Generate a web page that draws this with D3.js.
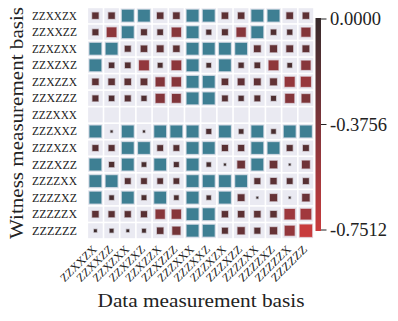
<!DOCTYPE html>
<html>
<head>
<meta charset="utf-8">
<script src="https://cdn.jsdelivr.net/npm/d3@7"></script>
<style>
  body { margin: 0; background: #fff; }
  svg { display: block; }
  text { font-family: "Liberation Serif", "DejaVu Serif", serif; fill: #222; }
</style>
</head>
<body>
<div id="chart"></div>
<script>
// Witness vs data measurement basis: square size ~ |value|, colour by value
const rowLabels = ['ZZXXZX', 'ZZXXZZ', 'ZZXZXX', 'ZZXZXZ', 'ZZXZZX', 'ZZXZZZ', 'ZZZXXX',
                   'ZZZXXZ', 'ZZZXZX', 'ZZZXZZ', 'ZZZZXX', 'ZZZZXZ', 'ZZZZZX', 'ZZZZZZ'];
const colLabels = rowLabels.slice();

// positive values fall above the colour range and are drawn in teal
const T = 0.68;
const witnessValues = [
    [-0.20, -0.20, T, T, -0.20, -0.21, T, T, -0.20, -0.20, T, T, -0.21, -0.20],
    [-0.17, -0.45, T, -0.17, -0.15, -0.42, T, -0.12, -0.17, -0.42, T, -0.14, -0.13, -0.40],
    [T, T, -0.17, -0.20, -0.22, -0.20, T, T, T, T, -0.22, -0.24, -0.22, -0.22],
    [T, -0.14, -0.15, -0.48, -0.11, -0.45, T, -0.10, T, -0.13, -0.15, -0.46, -0.10, -0.42],
    [-0.20, -0.20, -0.20, -0.21, -0.40, -0.42, T, T, -0.20, -0.22, -0.22, -0.23, -0.48, -0.50],
    [-0.17, -0.14, -0.17, -0.13, -0.40, -0.38, T, T, -0.16, -0.13, -0.16, -0.12, -0.40, -0.36],
    [null, null, null, null, null, null, null, null, null, null, null, null, null, null],
    [T, -0.02, T, -0.02, T, T, T, -0.12, T, -0.10, T, -0.10, T, T],
    [-0.17, -0.17, T, T, -0.16, -0.16, T, T, -0.18, -0.18, T, T, -0.17, -0.17],
    [T, -0.13, T, -0.10, T, -0.12, T, -0.09, -0.02, -0.28, T, -0.27, -0.015, -0.30],
    [T, T, -0.16, -0.16, -0.15, -0.15, T, T, T, T, -0.17, -0.19, -0.16, -0.17],
    [T, -0.10, T, -0.11, T, -0.10, T, -0.09, T, -0.22, -0.015, -0.25, -0.015, -0.27],
    [-0.20, -0.18, -0.18, -0.18, -0.42, -0.42, T, T, -0.19, -0.20, -0.20, -0.20, -0.53, -0.55],
    [-0.04, -0.07, -0.035, -0.07, -0.20, -0.32, T, T, -0.17, -0.25, -0.17, -0.25, -0.48, -0.7512]
];

const vMin = -0.7512;
const cbarTicks = [0, -0.3756, -0.7512];

const width = 398, height = 321;
const svg = d3.select('#chart').append('svg')
    .attr('width', width)
    .attr('height', height);

const x = d3.scaleBand().domain(colLabels).range([87.3, 314]);
const y = d3.scaleBand().domain(rowLabels).range([7.4, 239]);

const color = d3.scaleLinear()
    .domain([0, vMin])
    .range(['#362a2b', '#c83b3d'])
    .interpolate(d3.interpolateHcl)
    .clamp(true);
const overColor = '#3e7f93';

const maxSide = 12.3;
const side = d3.scaleSqrt().domain([0, Math.abs(vMin)]).range([0, maxSide]);

// cell backgrounds
const gap = 1.6;
rowLabels.forEach(r => {
    colLabels.forEach(c => {
        svg.append('rect')
            .attr('x', x(c) + gap / 2)
            .attr('y', y(r) + gap / 2)
            .attr('width', x.bandwidth() - gap)
            .attr('height', y.bandwidth() - gap)
            .attr('fill', '#eaeaf2');
    });
});

// squares
witnessValues.forEach((row, i) => {
    row.forEach((v, j) => {
        if (v === null) return;
        const s = side(Math.abs(v));
        const cx = x(colLabels[j]) + x.bandwidth() / 2;
        const cy = y(rowLabels[i]) + y.bandwidth() / 2;
        const fill = v > 0 ? overColor : color(v);
        svg.append('rect')
            .attr('x', cx - s / 2)
            .attr('y', cy - s / 2)
            .attr('width', s)
            .attr('height', s)
            .attr('fill', fill)
            .attr('stroke', fill)
            .attr('stroke-opacity', 0.3)
            .attr('stroke-width', 1.4);
    });
});

// row labels
svg.append('g')
    .selectAll('text')
    .data(rowLabels)
    .join('text')
    .attr('x', 77)
    .attr('y', d => y(d) + y.bandwidth() / 2)
    .attr('dy', '0.35em')
    .attr('text-anchor', 'end')
    .attr('font-size', '11.5px')
    .attr('textLength', 45)
    .attr('lengthAdjust', 'spacingAndGlyphs')
    .text(d => d);

// column labels, rotated
svg.append('g')
    .selectAll('text')
    .data(colLabels)
    .join('text')
    .attr('transform', d => `translate(${x(d) + x.bandwidth() / 2 + 2},${250}) rotate(-45)`)
    .attr('text-anchor', 'end')
    .attr('font-size', '11.5px')
    .attr('textLength', 46)
    .attr('lengthAdjust', 'spacingAndGlyphs')
    .text(d => d);

// axis titles
svg.append('text')
    .attr('x', 201)
    .attr('y', 307)
    .attr('text-anchor', 'middle')
    .attr('font-size', '19px')
    .attr('fill', '#333')
    .attr('textLength', 207)
    .attr('lengthAdjust', 'spacingAndGlyphs')
    .text('Data measurement basis');

svg.append('text')
    .attr('transform', `translate(23,${123}) rotate(-90)`)
    .attr('text-anchor', 'middle')
    .attr('font-size', '19px')
    .attr('fill', '#333')
    .attr('textLength', 232)
    .attr('lengthAdjust', 'spacingAndGlyphs')
    .text('Witness measurement basis');

// colour bar
const cbX = 315.5, cbW = 5.5;
const cy = d3.scaleLinear().domain([0, vMin]).range([19, 230]);

const grad = svg.append('defs').append('linearGradient')
    .attr('id', 'cbar')
    .attr('x1', 0).attr('y1', 0).attr('x2', 0).attr('y2', 1);
d3.range(0, 1.0001, 0.1).forEach(t => {
    grad.append('stop')
        .attr('offset', t)
        .attr('stop-color', color(vMin * t));
});

svg.append('rect')
    .attr('x', cbX)
    .attr('y', cy(0) - 1)
    .attr('width', cbW)
    .attr('height', cy(vMin) - cy(0) + 2)
    .attr('fill', 'url(#cbar)');

const cbAxis = svg.append('g');
cbarTicks.forEach(t => {
    cbAxis.append('line')
        .attr('x1', cbX + cbW)
        .attr('x2', cbX + cbW + 5.5)
        .attr('y1', cy(t))
        .attr('y2', cy(t))
        .attr('stroke', '#222')
        .attr('stroke-width', 1);
    cbAxis.append('text')
        .attr('x', cbX + cbW + 9)
        .attr('y', cy(t))
        .attr('dy', '0.35em')
        .attr('font-size', '18.5px')
        .text(t.toFixed(4));
});
</script>
</body>
</html>
